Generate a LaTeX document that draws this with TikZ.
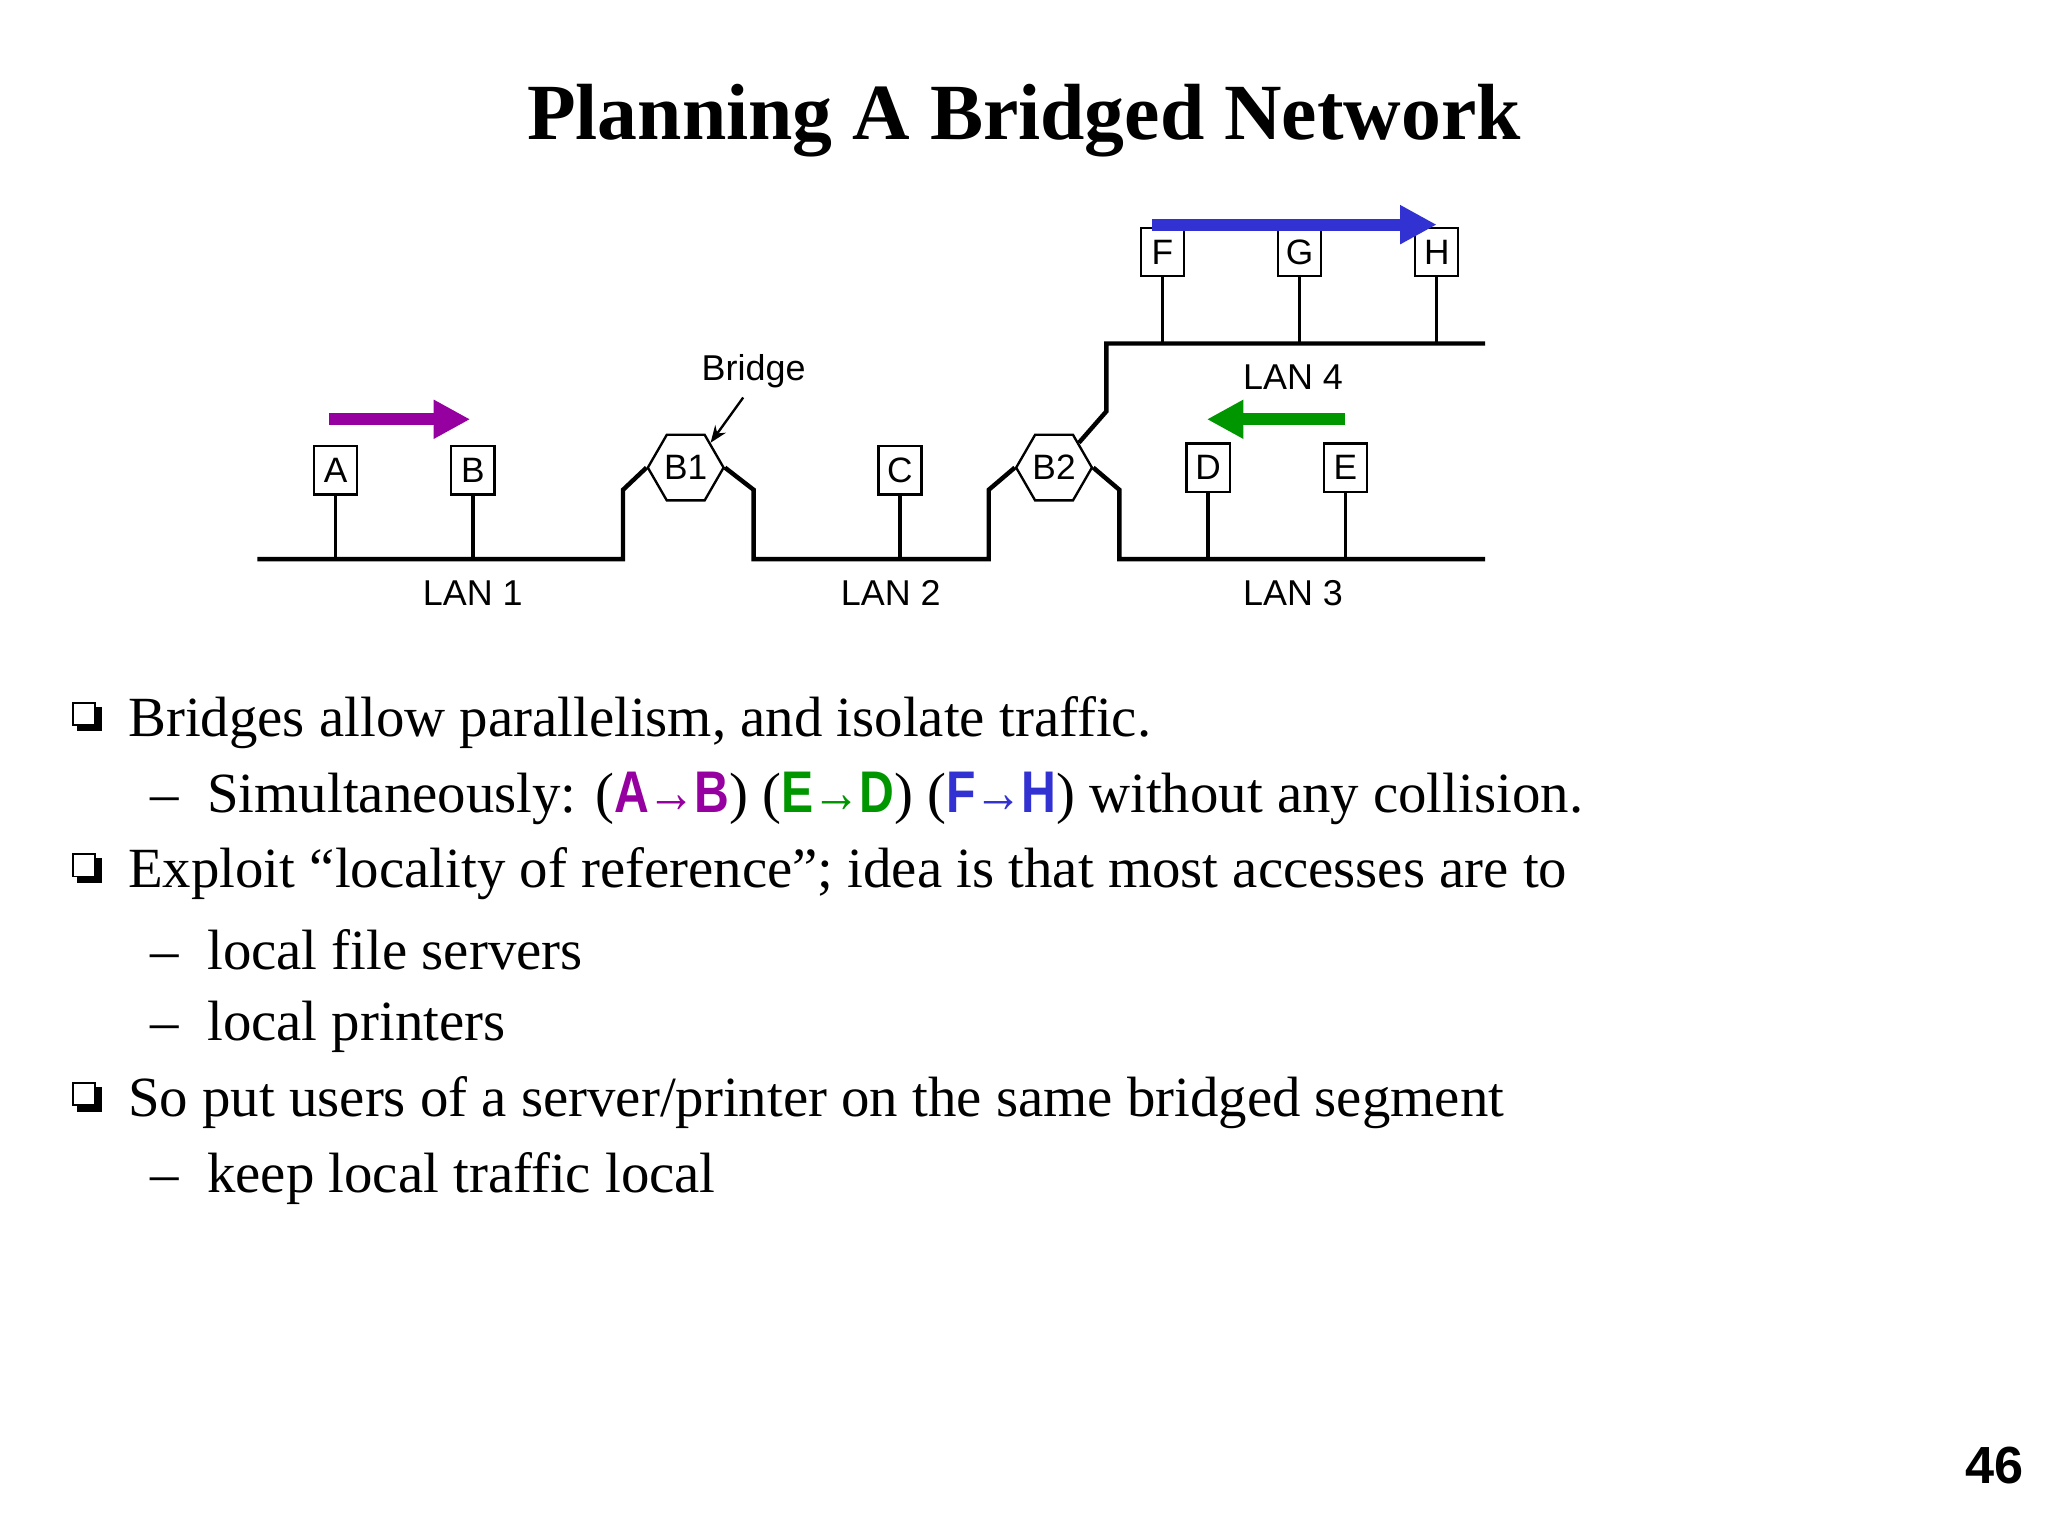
\documentclass[tikz,border=0pt]{standalone}
\usepackage{fontspec}
\setmainfont{Liberation Serif}
\newfontfamily\hv{Liberation Sans}
\newfontfamily\hvn[FakeStretch=0.82]{Liberation Sans}
\usetikzlibrary{arrows.meta,shapes.geometric}
\definecolor{purp}{RGB}{150,0,160}
\definecolor{grn}{RGB}{0,150,0}
\definecolor{blu}{RGB}{50,50,210}
\tikzset{
 stn/.style={draw,line width=1.8pt,inner sep=0pt,minimum width=33pt,minimum height=37pt,font=\hv\fontsize{27}{27}\selectfont},
 brg/.style={draw,regular polygon,regular polygon sides=6,shape border rotate=0,line width=1.8pt,minimum size=58pt,inner sep=0pt,font=\hv\fontsize{27}{27}\selectfont},
 lan/.style={line width=3.4pt},
 stem/.style={line width=2.6pt},
 lbl/.style={font=\hv\fontsize{27.5}{27.5}\selectfont},
 fat/.style={line width=9pt,-{Triangle[length=28pt,width=28pt]}},
 txt/.style={anchor=west,inner sep=0pt,font=\fontsize{43.5}{43.5}\selectfont},
}
\newcommand\qbox[1]{\fill (#1)++(-6,-8) rectangle ++(19,19); \draw[line width=1.3pt,fill=white] (#1)++(-9,-11) rectangle ++(17,17);}
\newcommand\flow[3]{{\hvn\bfseries\fontsize{45}{45}\selectfont\color{#1}#2\kern-1pt→\kern-1pt#3}}
\begin{document}
\begin{tikzpicture}[x=1pt,y=-1pt]
\useasboundingbox (0,0) rectangle (1568,1176);
\node[font=\bfseries\fontsize{61}{61}\selectfont] (title) at (784,92) {Planning A Bridged Network};
\node[brg] (b1) at (525,358) {B1};
\node[brg] (b2) at (807,358) {B2};
\draw[lan,line join=miter] (197,428) -- (477,428) -- (477,375) -- (b1.west);
\draw[lan,line join=miter] (b1.east) -- (577,375) -- (577,428) -- (757,428) -- (757,375) -- (b2.west);
\draw[lan,line join=miter] (b2.east) -- (857,375) -- (857,428) -- (1137,428);
\draw[lan,line join=miter] (b2.north east) -- (847,315) -- (847,263) -- (1137,263);
\foreach \n/\x/\y/\ly in {A/257/360/428,B/362/360/428,C/689/360/428,D/925/358/428,E/1030/358/428,F/890/193/263,G/995/193/263,H/1100/193/263}{
  \node[stn] (\n) at (\x,\y) {\n};
  \draw[stem] (\n.south) -- (\x,\ly);
}
\node[lbl] (lan1) at (362,454) {LAN 1};
\node[lbl] (lan2) at (682,454) {LAN 2};
\node[lbl] (lan3) at (990,454) {LAN 3};
\node[lbl] (lan4) at (990,289) {LAN 4};
\node[lbl] (bl) at (577,284) {Bridge};
\draw[line width=1.8pt,-{Stealth[length=13pt,width=10pt]}] (bl.south)++(-8,4) -- (b1.north east);
\coordinate (pa) at (252,321); \coordinate (pb) at (360,321);
\coordinate (ga) at (1030,321); \coordinate (gb) at (924,321);
\coordinate (ba) at (882,172); \coordinate (bb) at (1100,172);
\draw[fat,purp] (pa) -- (pb);
\draw[fat,grn] (ga) -- (gb);
\draw[fat,blu] (ba) -- (bb);
\qbox{65,549}
\qbox{65,665}
\qbox{65,840}
\node[txt] (t1) at (98,553) {Bridges allow parallelism, and isolate traffic.};
\node[txt] (t2) at (115,611) {–\ \ Simultaneously: (\flow{purp}{A}{B}) (\flow{grn}{E}{D}) (\flow{blu}{F}{H}) without any collision.};
\node[txt] (t3) at (98,669) {Exploit “locality of reference”; idea is that most accesses are to};
\node[txt] (t4) at (115,727) {–\ \ local file servers};
\node[txt] (t5) at (115,786) {–\ \ local printers};
\node[txt] (t6) at (98,844) {So put users of a server/printer on the same bridged segment};
\node[txt] (t7) at (115,902) {–\ \ keep local traffic local};
\node[font=\hv\bfseries\fontsize{40}{40}\selectfont] (pg) at (1527,1122) {46};
\end{tikzpicture}
\end{document}
